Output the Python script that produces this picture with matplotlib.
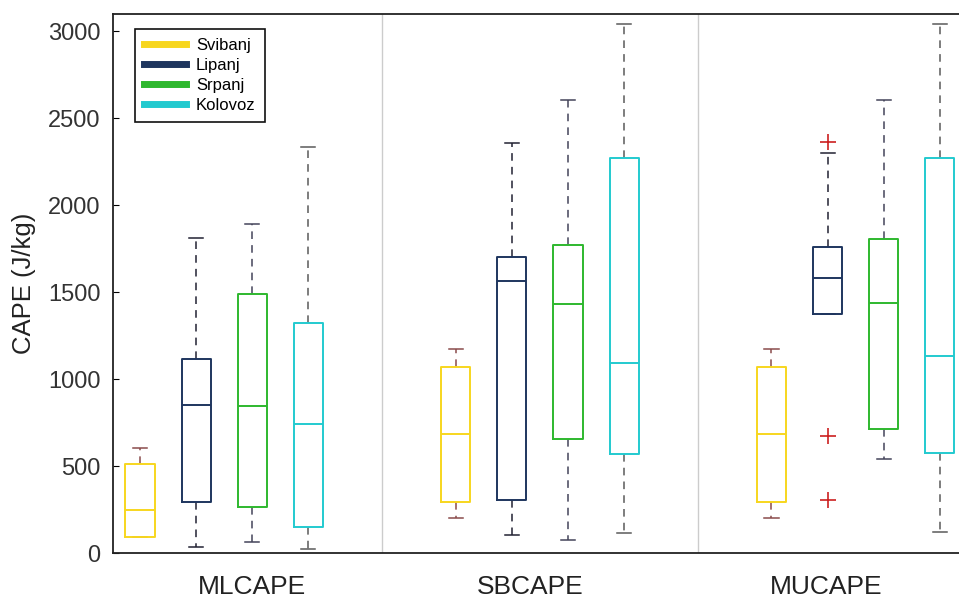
import numpy as np
import matplotlib.pyplot as plt

plt.rcParams['font.family'] = ['Liberation Sans', 'DejaVu Sans']

months = ["Svibanj", "Lipanj", "Srpanj", "Kolovoz"]
groups = ["MLCAPE", "SBCAPE", "MUCAPE"]

# rows = groups, columns = months (J/kg)
q1 = [[90, 293, 264, 151],
      [291, 303, 653, 571],
      [291, 1372, 713, 573]]
med = [[247, 854, 843, 743],
       [682, 1563, 1431, 1094],
       [684, 1584, 1435, 1132]]
q3 = [[510, 1113, 1492, 1323],
      [1071, 1701, 1770, 2270],
      [1071, 1760, 1805, 2270]]
whis_lo = [[90, 33, 65, 25],
           [203, 103, 75, 117],
           [203, 1372, 538, 119]]
whis_hi = [[605, 1812, 1891, 2333],
           [1171, 2360, 2603, 3040],
           [1171, 2301, 2603, 3040]]
outliers = {(2, 1): [2364, 672, 305]}

colors = ["#F7D61E", "#1E355E", "#2EB82E", "#22CACF"]
whisker_colors = ["#8a4b4b", "#222233", "#44445a", "#5a5a5a"]

group_step = 5.625
label_x = [2.0, 6.96, 12.23]

fig = plt.figure(figsize=(9.59, 6.10), dpi=100)
ax = fig.add_axes([113 / 959, 1 - 553 / 610, 1 - 113 / 959 + 0.002, (553 - 14) / 610])

for g in range(len(groups)):
    for m in range(len(months)):
        st = dict(med=med[g][m], q1=q1[g][m], q3=q3[g][m],
                  whislo=whis_lo[g][m], whishi=whis_hi[g][m],
                  fliers=outliers.get((g, m), []))
        pos = m + g * group_step
        wc = whisker_colors[m]
        ax.bxp([st], positions=[pos], widths=0.52, capwidths=0.25,
               showfliers=True,
               boxprops=dict(color=colors[m], linewidth=1.4, zorder=4),
               medianprops=dict(color=colors[m], linewidth=1.4, zorder=4),
               whiskerprops=dict(color=wc, linewidth=1.1, linestyle=(0, (5, 4)), zorder=2),
               capprops=dict(color=wc, linewidth=1.1, zorder=2),
               flierprops=dict(marker='+', markeredgecolor='#cc2020',
                               markersize=11, markeredgewidth=1.2))

# separators between groups
for g in range(len(groups) - 1):
    ax.axvline(3 + g * group_step + (group_step - 3) / 2, color='#cccccc', lw=1.0, zorder=1)

ax.set_xlim(-0.482, 14.625)
ax.set_ylim(0, 3100)
ax.set_yticks([0, 500, 1000, 1500, 2000, 2500, 3000])
ax.set_xticks(label_x)
ax.set_xticklabels(groups, fontsize=19, color='#222222')
ax.tick_params(axis='x', length=0, pad=16)
ax.tick_params(axis='y', direction='in', length=4, labelsize=17, labelcolor='#333333', pad=9)
ax.set_ylabel("CAPE (J/kg)", fontsize=18.5, color='#222222', labelpad=9)
ax.spines['right'].set_visible(False)
for s in ['left', 'top', 'bottom']:
    ax.spines[s].set_linewidth(1.3)
    ax.spines[s].set_color('#222222')

handles = [plt.Line2D([], [], color=c, lw=5) for c in colors]
leg = ax.legend(handles, months, loc='upper left', bbox_to_anchor=(0.026, 0.972),
                borderaxespad=0, fontsize=12, handlelength=2.5, handletextpad=0.6,
                labelspacing=0.3, borderpad=0.55, fancybox=False, framealpha=1,
                edgecolor='#111111')
leg.get_frame().set_linewidth(1.2)

plt.savefig("out.png", dpi=100)
